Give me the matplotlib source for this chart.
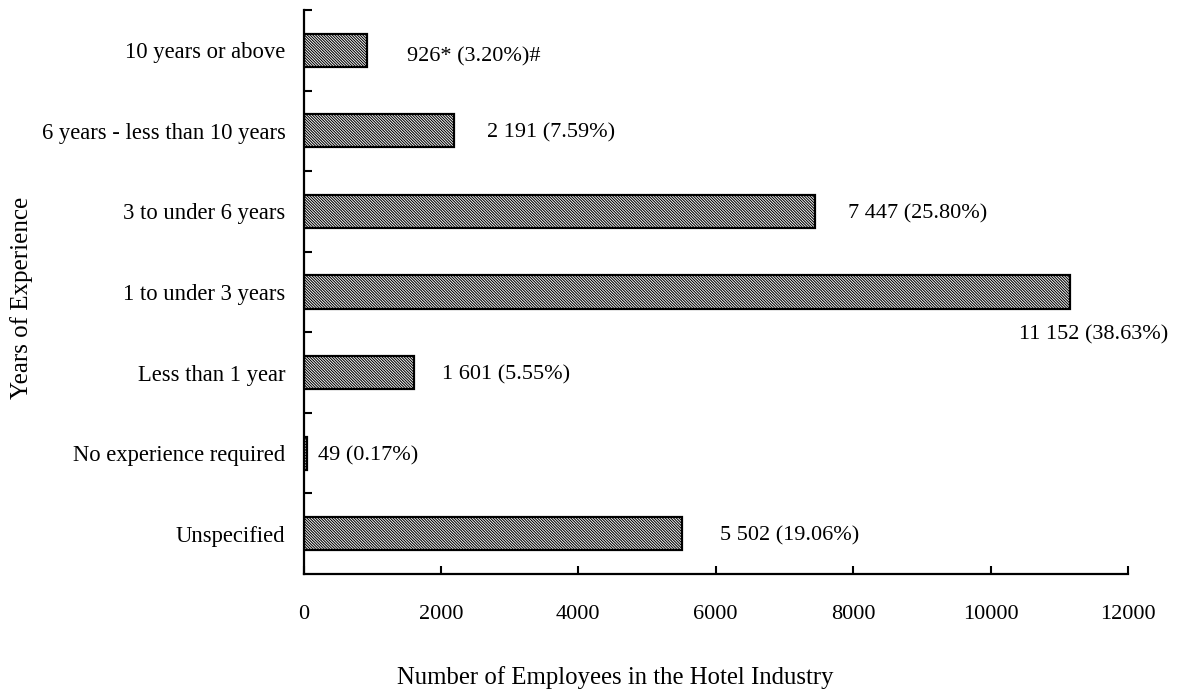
import matplotlib
matplotlib.use("Agg")
import matplotlib.pyplot as plt
from matplotlib.ticker import FixedLocator

# Employees in the hotel industry by required years of experience
categories = [
    "Unspecified",
    "No experience required",
    "Less than 1 year",
    "1 to under 3 years",
    "3 to under 6 years",
    "6 years - less than 10 years",
    "10 years or above",
]
employees = [5502, 49, 1601, 11152, 7447, 2191, 926]
value_labels = [
    "5 502 (19.06%)",
    "49 (0.17%)",
    "1 601 (5.55%)",
    "11 152 (38.63%)",
    "7 447 (25.80%)",
    "2 191 (7.59%)",
    "926* (3.20%)#",
]
x_ticks = [0, 2000, 4000, 6000, 8000, 10000, 12000]

# label offsets from the bar end, in pixels (dx, dy)
label_offsets = [(38, 0), (11, 0), (28, 0), (-51, -40), (33, 0), (33, 0), (40, -4)]

plt.rcParams["font.family"] = ["Liberation Serif", "DejaVu Serif"]
plt.rcParams["hatch.linewidth"] = 0.75
plt.rcParams["hatch.color"] = "black"

fig = plt.figure(figsize=(11.81, 6.96), dpi=100)
ax = fig.add_axes([303.5 / 1181, 1 - 574 / 696, (1128 - 303.5) / 1181, (574 - 10) / 696])

ypos = list(range(len(categories)))
ax.barh(ypos, employees, height=0.41, color="white", edgecolor="black",
        linewidth=1.6, hatch="\\\\\\\\\\\\\\\\\\\\\\\\", zorder=2)

for y, v, lab, (dx, dy) in zip(ypos, employees, value_labels, label_offsets):
    ax.annotate(lab, xy=(v, y), xytext=(dx, dy), textcoords="offset pixels",
                ha="left", va="center_baseline", fontsize=16, color="black")

ax.set_xlim(0, 12000)
ax.set_ylim(-0.5, len(categories) - 0.5)

ax.set_yticks(ypos)
ax.set_yticklabels(categories, fontsize=16.3)
ax.yaxis.set_minor_locator(FixedLocator([i + 0.5 for i in range(len(categories))]))
ax.tick_params(axis="y", which="major", length=0, pad=13)
ax.tick_params(axis="y", which="minor", direction="in", length=6, width=1.5)

ax.set_xticks(x_ticks)
ax.set_xticklabels([str(t) for t in x_ticks], fontsize=16)
ax.tick_params(axis="x", direction="in", length=6, width=1.5, pad=22)

for side in ("top", "right"):
    ax.spines[side].set_visible(False)
for side in ("left", "bottom"):
    ax.spines[side].set_linewidth(1.6)

fig.text(615 / 1181, 1 - 678 / 696, "Number of Employees in the Hotel Industry",
         ha="center", va="center", fontsize=17.8)
fig.text(22 / 1181, 1 - 298 / 696, "Years of Experience", rotation=90,
         ha="center", va="center", fontsize=18)

fig.savefig("out.png", dpi=100)
